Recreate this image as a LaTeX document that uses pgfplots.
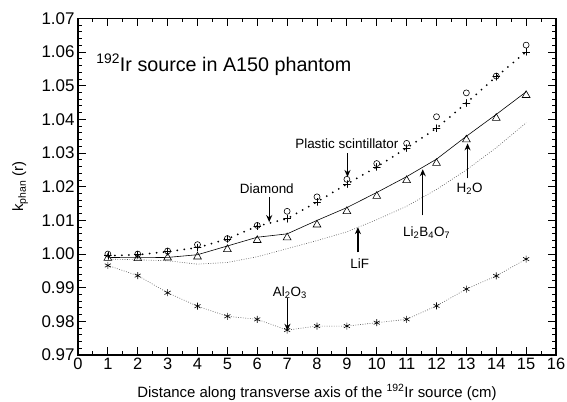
\documentclass[border=0pt]{standalone}
\usepackage{fontspec}
\setmainfont{Liberation Sans}
\usepackage{pgfplots}
\pgfplotsset{compat=1.18}
\usetikzlibrary{arrows.meta}
\begin{document}
\begin{tikzpicture}[font=\fontsize{15}{17}\selectfont]
\begin{axis}[
 at={(0,0)}, anchor=south west,
 scale only axis, width=478bp, height=336.5bp,
 xmin=0, xmax=16, ymin=0.97, ymax=1.07,
 xtick={0,1,...,16}, minor x tick num=1,
 ytick={0.97,0.98,0.99,1.00,1.01,1.02,1.03,1.04,1.05,1.06,1.07},
 minor y tick num=4,
 tick align=inside, major tick length=8bp, minor tick length=4bp,
 axis line style={line width=1.6pt},
 every tick/.style={black, line width=1pt},
 /pgf/number format/assume math mode=true,
 yticklabel style={font=\fontsize{17}{18}\selectfont, /pgf/number format/.cd, fixed, fixed zerofill, precision=2},
 xticklabel style={font=\fontsize{16.5}{18}\selectfont},
 xlabel={Distance along transverse axis of the \textsuperscript{192}Ir source (cm)},
 xlabel style={at={(axis description cs:0.5,-0.125)}, anchor=base},
 ylabel={k\textsubscript{phan} (r)},
 ylabel style={at={(axis description cs:-0.121,0.5)}, anchor=center},
 clip=false,
]
% Plastic scintillator (circles)
\addplot[only marks, mark=o, mark size=3bp, mark options={line width=0.6pt}] coordinates {
(1,1.0000) (2,1.0000) (3,1.0009) (4,1.0028) (5,1.0046) (6,1.0085) (7,1.0127) (8,1.0170)
(9,1.0222) (10,1.0269) (11,1.0329) (12,1.0408) (13,1.0479) (14,1.0529) (15,1.0621)};
% Diamond (plus) with thick dotted line
\addplot[black, line width=2pt, line cap=round, dash pattern=on 0pt off 7pt, mark=+, mark size=3.5bp, mark options={solid, line width=0.6pt}] coordinates {
(1,0.9995) (2,0.9998) (3,1.0007) (4,1.0019) (5,1.0045) (6,1.0083) (7,1.0105) (8,1.0155)
(9,1.0208) (10,1.0259) (11,1.0315) (12,1.0374) (13,1.0449) (14,1.0527) (15,1.0601)};
% Li2B4O7 solid line
\addplot[black, line width=0.6pt] coordinates {
(1,0.9990) (2,0.9989) (3,0.9990) (4,0.9998) (5,1.0024) (6,1.0050) (7,1.0060) (8,1.0100)
(9,1.0138) (10,1.0183) (11,1.0230) (12,1.0282) (13,1.0350) (14,1.0415) (15,1.0482)};
% H2O triangles
\addplot[only marks, mark=triangle, mark size=4.5bp, mark options={line width=0.6pt}] coordinates {
(1,0.9988) (2,0.9987) (3,0.9989) (4,0.9992) (5,1.0014) (6,1.0041) (7,1.0049) (8,1.0087)
(9,1.0127) (10,1.0172) (11,1.0219) (12,1.0270) (13,1.0340) (14,1.0404) (15,1.0472)};
% LiF thin dotted
\addplot[gray!70!black, line width=0.6pt, dash pattern=on 0.8pt off 1.6pt] coordinates {
(1,0.9985) (2,0.9983) (3,0.9980) (4,0.9970) (5,0.9975) (6,0.9992) (7,1.0016) (8,1.0040)
(9,1.0066) (10,1.0102) (11,1.0142) (12,1.0192) (13,1.0250) (14,1.0316) (15,1.0390)};
% Al2O3 stars
\addplot[gray!70!black, line width=0.6pt, dash pattern=on 0.8pt off 1.6pt, mark=asterisk, mark size=3.5bp, mark options={solid, black, line width=0.6pt}] coordinates {
(1,0.9966) (2,0.9936) (3,0.9885) (4,0.9845) (5,0.9815) (6,0.9806) (7,0.9774) (8,0.9786)
(9,0.9786) (10,0.9796) (11,0.9806) (12,0.9846) (13,0.9896) (14,0.9935) (15,0.9985)};
% annotations
\node[anchor=west, font=\fontsize{19.8}{22}\selectfont] at (axis cs:0.5,1.0562) {\textsuperscript{192}Ir source in A150 phantom};
\begin{scope}[font=\fontsize{13.5}{15}\selectfont]
\node at (axis cs:9.0,1.0329) {Plastic scintillator};
\draw[-{Stealth[length=7bp,width=6bp]}, line width=1.3pt] (axis cs:9.02,1.0300) -- (axis cs:9.02,1.0229);
\node at (axis cs:6.32,1.0193) {Diamond};
\draw[-{Stealth[length=7bp,width=6bp]}, line width=1.3pt] (axis cs:6.4,1.0170) -- (axis cs:6.4,1.0095);
\node at (axis cs:9.43,0.9973) {LiF};
\draw[-{Stealth[length=7bp,width=6bp]}, line width=1.3pt] (axis cs:9.37,1.0005) -- (axis cs:9.37,1.0080);
\node at (axis cs:11.67,1.0064) {Li\textsubscript{2}B\textsubscript{4}O\textsubscript{7}};
\draw[-{Stealth[length=7bp,width=6bp]}, line width=1.3pt] (axis cs:11.54,1.0115) -- (axis cs:11.54,1.0252);
\node at (axis cs:13.11,1.0193) {H\textsubscript{2}O};
\draw[-{Stealth[length=7bp,width=6bp]}, line width=1.3pt] (axis cs:13.04,1.0225) -- (axis cs:13.04,1.0329);
\node at (axis cs:7.09,0.9886) {Al\textsubscript{2}O\textsubscript{3}};
\draw[-{Stealth[length=7bp,width=6bp]}, line width=1.3pt] (axis cs:7.01,0.9868) -- (axis cs:7.01,0.9772);
\end{scope}
\end{axis}
\pgfresetboundingbox
\path (-78bp,-47bp) rectangle (489bp,355bp);
\end{tikzpicture}
\end{document}
